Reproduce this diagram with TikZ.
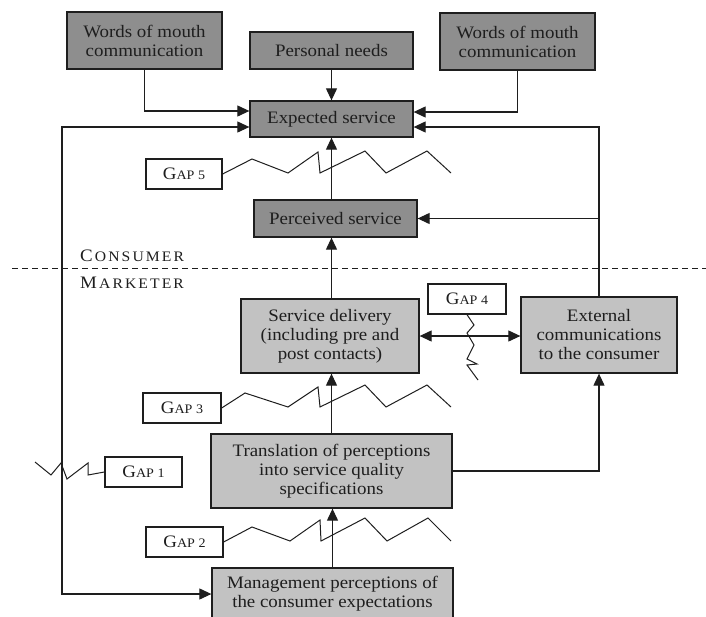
\documentclass[tikz,border=0pt]{standalone}
\usepackage{fontspec}
\setmainfont[FakeStretch=1.08]{Liberation Serif}
\usetikzlibrary{arrows.meta,calc}
\definecolor{darkbox}{RGB}{142,142,142}
\definecolor{lightbox}{RGB}{194,194,194}
\definecolor{ink}{RGB}{30,30,30}
\newcommand\mygap[1]{{\fontsize{17.5}{19}\selectfont G}{\fontsize{13}{15}\selectfont AP #1}}
\begin{document}
\begin{tikzpicture}[x=1pt,y=-1pt,
  base/.style={draw=ink, line width=1.3pt, inner sep=0pt, align=center, text=ink,
               font=\fontsize{17.5}{19}\selectfont},
  darkb/.style={base, fill=darkbox},
  lightb/.style={base, fill=lightbox},
  gapb/.style={base, fill=white, minimum width=77pt, minimum height=30pt},
  conn/.style={draw=ink, line width=1.1pt},
  arr/.style={conn, -{Triangle[length=12pt,width=11pt]}},
  dbl/.style={conn, {Triangle[length=12pt,width=11pt]}-{Triangle[length=12pt,width=11pt]}},
  zig/.style={draw=ink, line width=1pt, line join=miter}]
\useasboundingbox (0,0) rectangle (706,616);
\fill[white] (0,0) rectangle (706,616);

% consumer boxes
\node[darkb, minimum width=155pt, minimum height=57pt] (wom1) at (144.5,40.5) {Words of mouth\\communication};
\node[darkb, minimum width=163pt, minimum height=37pt] (needs) at (331.5,50.5) {Personal needs};
\node[darkb, minimum width=155pt, minimum height=57pt] (wom2) at (517.5,41.5) {Words of mouth\\communication};
\node[darkb, minimum width=163pt, minimum height=36pt] (expected) at (331.5,119) {Expected service};
\node[darkb, minimum width=163pt, minimum height=37pt] (perceived) at (335.5,218.5) {Perceived service};

% marketer boxes
\node[lightb, minimum width=178pt, minimum height=74pt] (delivery) at (330,336) {Service delivery\\(including pre and\\post contacts)};
\node[lightb, minimum width=156pt, minimum height=76pt] (external) at (599,335) {External\\communications\\to the consumer};
\node[lightb, minimum width=241pt, minimum height=74pt] (translation) at (331.5,471) {Translation of perceptions\\into service quality\\specifications};
\node[lightb, minimum width=241pt, minimum height=52pt] (management) at (332.5,594) {Management perceptions of\\the consumer expectations};

% gap labels
\node[gapb, minimum width=76pt] (gap5) at (184,174) {\mygap{5}};
\node[gapb, minimum width=78pt] (gap4) at (467,299) {\mygap{4}};
\node[gapb, minimum width=78pt] (gap3) at (182,408) {\mygap{3}};
\node[gapb] (gap1) at (143.5,472) {\mygap{1}};
\node[gapb] (gap2) at (184.5,542) {\mygap{2}};

% consumer / marketer divider
\coordinate (dl) at (12,268);
\coordinate (dr) at (706,268);
\draw[ink, line width=1pt, dash pattern=on 6pt off 4pt] (dl) -- (dr);
\node[anchor=base west, inner sep=0pt, text=ink] (consumer) at (80,261)
  {{\fontsize{17.5}{19}\selectfont C}\kern2.1pt{\fontsize{14.5}{15}\selectfont O\kern2.1pt N\kern2.1pt S\kern2.1pt U\kern2.1pt M\kern2.1pt E\kern2.1pt R}};
\node[anchor=base west, inner sep=0pt, text=ink] (marketer) at (80,288)
  {{\fontsize{17.5}{19}\selectfont M}\kern2.1pt{\fontsize{14.5}{15}\selectfont A\kern2.1pt R\kern2.1pt K\kern2.1pt E\kern2.1pt T\kern2.1pt E\kern2.1pt R}};

% connectors into expected service
\draw[arr] (wom1.south) |- ($(expected.west)+(0,-8)$);
\draw[arr] (needs.south) -- (expected.north);
\draw[arr] (wom2.south) |- ($(expected.east)+(0,-7)$);
\coordinate (leftrail) at (62,300);
\draw[dbl] ($(expected.west)+(0,8)$) -| (leftrail) |- (management.west);
\draw[arr] (external.north) |- ($(expected.east)+(0,8)$);
\draw[arr] (external.north |- perceived.east) -- (perceived.east);

% vertical chain
\draw[arr] (perceived.north -| expected.south) -- (expected.south);
\draw[arr] (delivery.north -| expected.south) -- (perceived.south -| expected.south);
\draw[arr] (translation.north) -- (translation.north |- delivery.south);
\draw[arr] (management.north) -- (management.north |- translation.south);
\draw[arr] (translation.east) -| (external.south);
\draw[dbl] (delivery.east) -- (delivery.east -| external.west);

% zigzag gap lines
\draw[zig] (gap5.east) -- (252,159) -- (288,173) -- (318,152) -- (320,173) -- (365,151) -- (386,173) -- (427,151) -- (451,173);
\draw[zig] (gap3.east) -- (245,393) -- (288,407) -- (318,387) -- (320,407) -- (365,385) -- (386,407) -- (427,385) -- (451,407);
\draw[zig] (gap2.east) -- (252,527) -- (290,541) -- (320,520) -- (321,541) -- (365,518) -- (387,541) -- (428,518) -- (451,541);
\draw[zig] (gap1.west) -- (88,475) -- (88,463) -- (67,479) -- (61,463) -- (51,475) -- (35,462);
\draw[zig] (gap4.south) -- (474,325) -- (467,333) -- (474,345) -- (467,359) -- (477,364) -- (467,365) -- (478,380);
\end{tikzpicture}
\end{document}
